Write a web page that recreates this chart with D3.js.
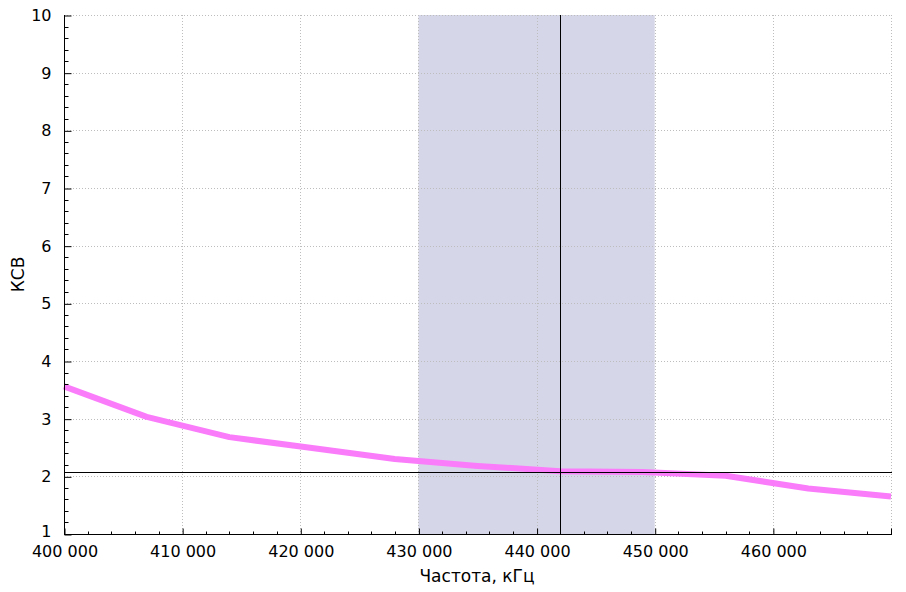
<!DOCTYPE html>
<html><head><meta charset="utf-8">
<script src="https://cdn.jsdelivr.net/npm/d3@7"></script>
<style>
html,body{margin:0;padding:0;background:#fff;}
svg{display:block;}
text{font-family:"DejaVu Sans",sans-serif;fill:#000;}
</style></head><body>
<svg id="chart" width="906" height="592"></svg>
<script>
const freq = [400000, 407000, 414000, 421000, 428000, 435000, 442000, 449000, 456000, 463000, 470000];
const ksv = [3.56, 3.03, 2.68, 2.49, 2.30, 2.18, 2.09, 2.075, 2.01, 1.79, 1.65];
const xTicks = [400000, 410000, 420000, 430000, 440000, 450000, 460000];
const xGrid = [410000, 420000, 430000, 440000, 450000, 460000, 470000];
const yTicks = [1, 2, 3, 4, 5, 6, 7, 8, 9, 10];
const band = [430000, 450000];
const cursor = {freq: 442000, ksv: 2.07};
const xTitle = "Частота, кГц";
const yTitle = "КСВ";

const L = 64, R = 891, T = 15, B = 534;
const FS = 16, TFS = 17;
const svg = d3.select("#chart");
const x = d3.scaleLinear().domain([400000, 470000]).range([L, R]);
const y = d3.scaleLinear().domain([1, 10]).range([B, T]);
const fmt = v => d3.format(",d")(v).replace(/,/g, " ");

// band
svg.append("rect")
  .attr("x", x(band[0])).attr("y", T)
  .attr("width", x(band[1]) - x(band[0])).attr("height", B - T)
  .attr("fill", "#d5d6e8");

// grid
const g = svg.append("g").attr("stroke", "#bdbdbd").attr("stroke-width", 1).attr("stroke-dasharray", "1,2");
xGrid.forEach(v => {
  const px = Math.round(x(v)) + 0.5;
  g.append("line").attr("x1", px).attr("x2", px).attr("y1", T).attr("y2", B);
});
yTicks.slice(1).forEach(v => {
  const py = Math.round(y(v)) + 0.5;
  g.append("line").attr("x1", L).attr("x2", R + 1).attr("y1", py).attr("y2", py);
});

// series line
svg.append("path")
  .datum(freq.map((f, i) => [f, ksv[i]]))
  .attr("fill", "none")
  .attr("stroke", "#fa7cfa")
  .attr("stroke-width", 6)
  .attr("stroke-linejoin", "round")
  .attr("d", d3.line().x(d => x(d[0])).y(d => y(d[1])));

// cursor lines
const cx = Math.round(x(cursor.freq)) + 0.5;
const cy = Math.round(y(cursor.ksv)) + 0.5;
svg.append("line").attr("x1", cx).attr("x2", cx).attr("y1", T).attr("y2", B).attr("stroke", "#000").attr("stroke-width", 1);
svg.append("line").attr("x1", L).attr("x2", R + 1).attr("y1", cy).attr("y2", cy).attr("stroke", "#000").attr("stroke-width", 1);

// x axis
const xMinor = d3.range(400000, 470001, 2000).filter(v => v % 10000 !== 0);
const xAxis = d3.axisBottom(x).tickValues(xTicks).tickFormat(fmt).tickSizeInner(-6).tickSizeOuter(0).tickPadding(11);
const gx = svg.append("g").attr("transform", `translate(0.5,${B + 0.5})`).call(xAxis);
gx.select(".domain").attr("d", `M${L - 0.5},0H${R + 0.5}`).attr("stroke", "#000");
gx.selectAll(".tick text").attr("font-size", FS).attr("dy", "0.71em").attr("font-family", "DejaVu Sans");
const gxm = svg.append("g").attr("transform", `translate(0.5,${B + 0.5})`);
xMinor.forEach(v => {
  const px = Math.round(x(v));
  gxm.append("line").attr("x1", px).attr("x2", px).attr("y1", 0).attr("y2", -3).attr("stroke", "#000");
});
gxm.append("line").attr("x1", Math.round(x(470000))).attr("x2", Math.round(x(470000))).attr("y1", 0).attr("y2", -6).attr("stroke", "#000");

// y axis
const yMinor = d3.range(1, 10.0001, 0.2).filter(v => Math.abs(v - Math.round(v)) > 0.01);
const yAxis = d3.axisLeft(y).tickValues(yTicks).tickFormat(d3.format("d")).tickSizeInner(-7).tickSizeOuter(0).tickPadding(13);
const gy = svg.append("g").attr("transform", `translate(${L + 0.5},0.5)`).call(yAxis);
gy.select(".domain").attr("d", `M0,${T - 0.5}V${B + 0.5}`).attr("stroke", "#000");
gy.selectAll(".tick text").attr("font-size", FS).attr("font-family", "DejaVu Sans");
gy.selectAll(".tick text").filter(d => d === 1).attr("dy", "0.15em");
const gym = svg.append("g").attr("transform", `translate(${L + 0.5},0.5)`);
yMinor.forEach(v => {
  const py = Math.round(y(v));
  gym.append("line").attr("x1", 0).attr("x2", 4).attr("y1", py).attr("y2", py).attr("stroke", "#000");
});

// titles
svg.append("text").attr("x", 477).attr("y", 582).attr("text-anchor", "middle").attr("font-size", TFS).text(xTitle);
svg.append("text").attr("transform", `translate(24,${(T + B) / 2}) rotate(-90)`).attr("text-anchor", "middle").attr("font-size", TFS).text(yTitle);
</script>
</body></html>
